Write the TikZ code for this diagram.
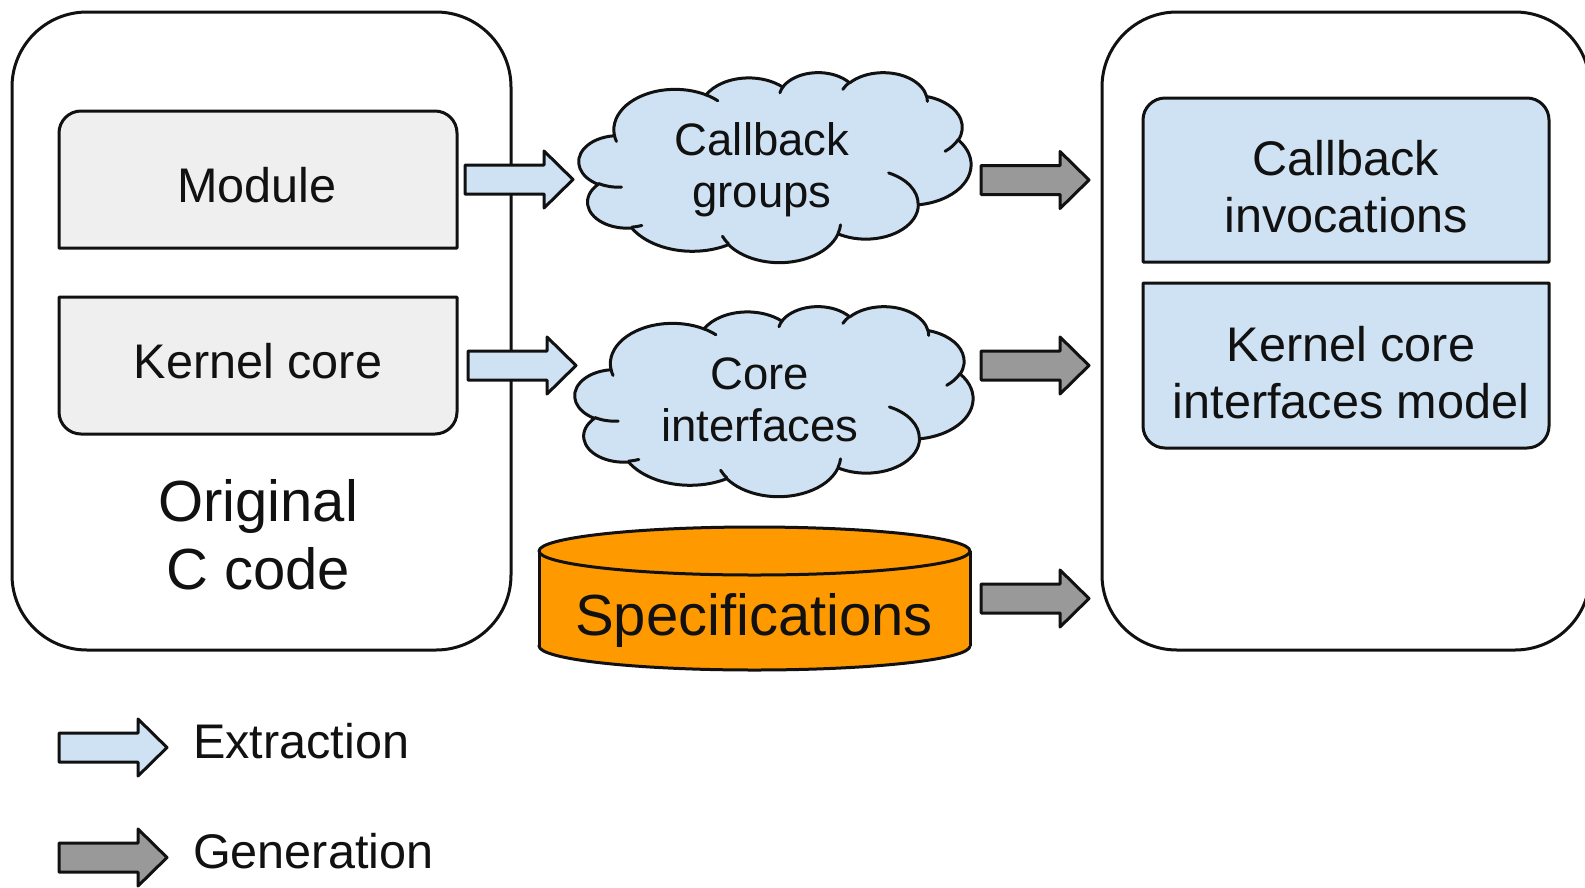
\documentclass[tikz,border=0pt]{standalone}
\usepackage{fontspec}
\setmainfont{Liberation Sans}
\usetikzlibrary{calc}

\definecolor{lightblue}{HTML}{CFE2F3}
\definecolor{boxgrey}{HTML}{EFEFEF}
\definecolor{arrowgrey}{HTML}{999999}
\definecolor{specorange}{HTML}{FF9900}
\definecolor{ink}{HTML}{111111}

\newcommand\sizeA{\fontsize{48.6pt}{57pt}\selectfont}
\newcommand\sizeCloud{\fontsize{45.5pt}{52pt}\selectfont}
\newcommand\sizeBig{\fontsize{58pt}{68.5pt}\selectfont}

% box whose two upper corners are rounded
\newcommand\boxRoundTop[2]{%
  \path[#2] (#1.south west) -- ([yshift=-22pt]#1.north west)
    .. controls ([yshift=-9.9pt]#1.north west) and ([xshift=9.9pt]#1.north west) .. ([xshift=22pt]#1.north west)
    -- ([xshift=-22pt]#1.north east)
    .. controls ([xshift=-9.9pt]#1.north east) and ([yshift=-9.9pt]#1.north east) .. ([yshift=-22pt]#1.north east)
    -- (#1.south east) -- cycle;}
% box whose two lower corners are rounded
\newcommand\boxRoundBottom[2]{%
  \path[#2] (#1.north west) -- ([yshift=22pt]#1.south west)
    .. controls ([yshift=9.9pt]#1.south west) and ([xshift=9.9pt]#1.south west) .. ([xshift=22pt]#1.south west)
    -- ([xshift=-22pt]#1.south east)
    .. controls ([xshift=-9.9pt]#1.south east) and ([yshift=9.9pt]#1.south east) .. ([yshift=22pt]#1.south east)
    -- (#1.north east) -- cycle;}

% difference between the parametric and the visual angle of an ellipse point
% (visual angle #1, radii #2 and #3)
\makeatletter
\pgfmathdeclarefunction{ooxdiff}{3}{%
  \begingroup
    \pgfmathparse{atan(((#2)/(#3)-1)*sin(#1)*cos(#1)/(cos(#1)^2+(#2)/(#3)*sin(#1)^2))}%
    \pgfmath@smuggleone\pgfmathresult
  \endgroup}
\makeatother

% elliptic arc: radii #1,#2 (on a 4320 grid), visual start angle #3, sweep #4
% (angles clockwise, y pointing down)
\newcommand\oarc[4]{%
  arc[start angle={-((#3)+ooxdiff(#3,#1,#2))},
      delta angle={-((#4)+ooxdiff((#3)+(#4),#1,#2)-ooxdiff(#3,#1,#2))},
      x radius={(#1)*\cloudsx}, y radius={(#2)*\cloudsy}]}
\newcommand\cloudpt[3]{($(#1.north west)+({#2*\cloudsx},{-#3*\cloudsy})$)}

% cloud outline with its inner curls, fitted into node #1 of size #2 x #3
\newcommand\drawcloud[3]{%
  \pgfmathsetmacro\cloudsx{#2/4320}%
  \pgfmathsetmacro\cloudsy{#3/4320}%
  \begin{scope}[y=1pt]
  \path[cloudbody] \cloudpt{#1}{390.0}{1437.0}
     \oarc{675.3}{919.0}{-190.4875}{123.7805}
     \oarc{533.3}{726.7}{-144.1024}{89.9452}
     \oarc{436.5}{594.5}{-145.8079}{99.7230}
     \oarc{485.7}{659.5}{-130.9861}{117.2417}
     \oarc{533.3}{727.3}{-78.7089}{109.0269}
     \oarc{677.5}{922.0}{-46.2673}{130.2690}
     \oarc{578.5}{786.7}{0.6250}{114.0333}
     \oarc{675.2}{921.5}{22.4516}{115.1726}
     \oarc{772.0}{1054.3}{66.2426}{75.7110}
     \oarc{436.0}{591.8}{-274.9421}{146.7356}
     \oarc{434.5}{594.5}{-246.8285}{152.5189}
     -- cycle;
  \path[cloudcurl]
     \cloudpt{#1}{469.3}{2617.7}  \oarc{434.5}{594.5}{86.7420}{26.4295}
     \cloudpt{#1}{692.8}{3489.9}  \oarc{436.0}{591.8}{73.6105}{11.4475}
     \cloudpt{#1}{1647.8}{3909.0} \oarc{675.2}{921.5}{137.6242}{14.0811}
     \cloudpt{#1}{2882.7}{3475.1} \oarc{675.2}{921.5}{6.4533}{15.9984}
     \cloudpt{#1}{3412.9}{2295.4} \oarc{578.5}{786.7}{-70.2924}{70.9174}
     \cloudpt{#1}{4179.8}{1535.4} \oarc{533.3}{727.3}{30.3180}{27.7515}
     \cloudpt{#1}{3832.4}{542.6}  \oarc{485.7}{659.5}{-13.7443}{14.8501}
     \cloudpt{#1}{2907.8}{395.2}  \oarc{485.7}{659.5}{-149.1815}{18.1959}
     \cloudpt{#1}{2214.1}{472.0}  \oarc{436.5}{594.5}{-163.4943}{17.6881}
     \cloudpt{#1}{1400.0}{519.2}  \oarc{675.3}{919.0}{-66.7070}{12.3194}
     \cloudpt{#1}{412.7}{1578.9}  \oarc{675.3}{919.0}{157.6544}{11.8582};
  \end{scope}}

\tikzset{
  inkline/.style={draw=ink, line width=3pt, line join=round},
  frame/.style={inkline, rounded corners=75pt, inner sep=0pt, outer sep=0pt},
  holder/.style={inner sep=0pt, outer sep=0pt},
  txt/.style={inner sep=0pt, outer sep=0pt, align=center, text=ink},
  greyfill/.style={inkline, fill=boxgrey},
  bluefill/.style={inkline, fill=lightblue},
  cloudbody/.style={inkline, fill=lightblue},
  cloudcurl/.style={inkline, line cap=round},
  blockarrow/.style={insert path={++(0,-14.5) -- ++(79,0) -- ++(0,-14) -- ++(29,28.5)
                     -- ++(-29,28.5) -- ++(0,-14) -- ++(-79,0) -- cycle}},
  extract/.style={inkline, fill=lightblue},
  generate/.style={inkline, fill=arrowgrey},
}

\begin{document}
\begin{tikzpicture}[x=1pt,y=-1pt]
\useasboundingbox (0,0) rectangle (1585,887);

% the two large frames
\node[frame, minimum width=499pt, minimum height=638pt] (srcframe) at (261.5,331) {};
\node[frame, minimum width=488pt, minimum height=638pt] (outframe) at (1346,331) {};

% boxes inside the frames
\node[holder, minimum width=398pt, minimum height=137pt] (modbox) at (258,179.5) {};
\node[holder, minimum width=398pt, minimum height=137pt] (kcbox) at (258,365.5) {};
\node[holder, minimum width=406pt, minimum height=164pt] (cbbox) at (1346,180) {};
\node[holder, minimum width=406pt, minimum height=165pt] (kmbox) at (1346,365.5) {};
\boxRoundTop{modbox}{greyfill}
\boxRoundBottom{kcbox}{greyfill}
\boxRoundTop{cbbox}{bluefill}
\boxRoundBottom{kmbox}{bluefill}

\node[txt, anchor=base, font=\sizeA] (modtext) at (257,202) {Module};
\node[txt, anchor=base, font=\sizeA] (kctext) at (258,378) {Kernel core};
\node[txt, font=\sizeBig] (srctext) at (258,535) {Original\\C code};
\node[txt, font=\sizeA] (cbtext) at (1346,187) {Callback\\invocations};
\node[txt, font=\sizeA] (kmtext) at (1351,373) {Kernel core\\interfaces model};

% clouds
\node[holder, minimum width=392pt, minimum height=190pt] (groups) at (775,167) {};
\node[holder, minimum width=398pt, minimum height=190pt] (ifaces) at (774,401) {};
\drawcloud{groups}{392}{190}
\drawcloud{ifaces}{398}{190}
\node[txt, font=\sizeCloud] (groupstext) at (762,170) {Callback\\groups};
\node[txt, font=\sizeCloud] (ifacestext) at (760,399.5) {Core\\interfaces};

% database cylinder
\node[holder, minimum width=431pt, minimum height=143pt] (specs) at (754.5,598.5) {};
\path[fill=specorange, inkline] ([yshift=24pt]specs.south) ellipse [x radius=215.5pt, y radius=24pt];
\fill[specorange] ([yshift=-24pt]specs.north west) rectangle ([yshift=24pt]specs.south east);
\draw[inkline] ([yshift=-24pt]specs.north west) -- ([yshift=24pt]specs.south west)
               ([yshift=-24pt]specs.north east) -- ([yshift=24pt]specs.south east);
\path[fill=specorange, inkline] ([yshift=-24pt]specs.north) ellipse [x radius=215.5pt, y radius=24pt];
\node[txt, anchor=base, font=\sizeBig] (specstext) at (754,635) {Specifications};

% extraction and generation arrows
\draw[extract] ([xshift=8pt]modbox.east) [blockarrow];
\draw[extract] ([xshift=11pt]kcbox.east) [blockarrow];
\coordinate (gentail) at ([xshift=-121pt]outframe.west);
\draw[generate] (gentail |- cbbox) [blockarrow];
\draw[generate] (gentail |- kmbox) [blockarrow];
\draw[generate] (gentail |- specs) [blockarrow];

% legend
\coordinate (legA) at (59,747.5);
\coordinate (legB) at (59,857.5);
\draw[extract] (legA) [blockarrow];
\draw[generate] (legB) [blockarrow];
\node[txt, anchor=base west, font=\sizeA] (legextract) at (193,758) {Extraction};
\node[txt, anchor=base west, font=\sizeA] (leggenerate) at (193,868) {Generation};
\end{tikzpicture}
\end{document}
